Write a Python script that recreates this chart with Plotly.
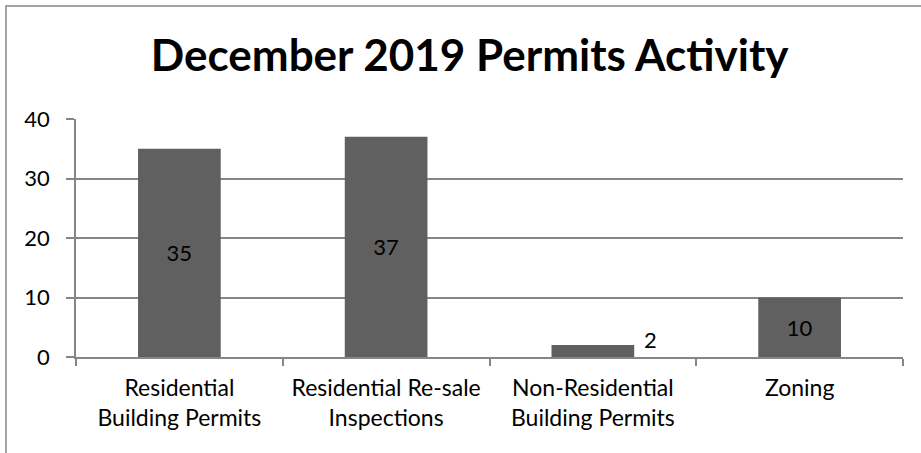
import plotly.graph_objects as go

categories = ["Residential<br>Building Permits", "Residential Re-sale<br>Inspections",
              "Non-Residential<br>Building Permits", "Zoning"]
values = [35, 37, 2, 10]
y_ticks = [0, 10, 20, 30, 40]
title_text = "December 2019 Permits Activity"

W, H = 921, 453
L, R, T, B = 76, 18, 119, 96
FONT = "Lato, Open Sans, sans-serif"
GRAY = "#868686"
BAR = "#606060"

fig = go.Figure()
fig.add_trace(go.Bar(
    x=categories, y=values, marker=dict(color=BAR, line=dict(width=0)),
    text=[str(v) if v >= 5 else "" for v in values],
    textposition="inside", insidetextanchor="middle",
    textfont=dict(family=FONT, size=22, color="black"),
    constraintext="none", cliponaxis=False, width=0.4, hoverinfo="skip",
))

# label for the small bar, placed right of it like the original
for c, v in zip(categories, values):
    if v < 5:
        fig.add_annotation(x=c, y=v / 2, text=str(v), showarrow=False,
                           xshift=58, yshift=12,
                           font=dict(family=FONT, size=22, color="black"))

pw = W - L - R
ph = H - T - B
fig.add_shape(type="rect", xref="paper", yref="paper",
              x0=(6 - L) / pw, x1=(W + 10 - L) / pw,
              y0=-(B + 10) / ph, y1=(H - 6 - B) / ph,
              line=dict(color=GRAY, width=1.5), layer="below")

fig.update_layout(
    width=W, height=H, margin=dict(l=L, r=R, t=T, b=B),
    paper_bgcolor="white", plot_bgcolor="white",
    title=dict(text="<b>" + title_text + "</b>", x=0.51, xref="container", xanchor="center",
               y=1 - 56 / H, yanchor="middle",
               font=dict(family=FONT, size=44, color="black")),
    showlegend=False,
    bargap=0.6,
    xaxis=dict(type="category", showline=True, linecolor=GRAY, linewidth=1.5,
               ticks="outside", tickson="boundaries", ticklen=7, tickcolor=GRAY,
               tickwidth=1.5, showgrid=False, ticklabelstandoff=10,
               tickfont=dict(family=FONT, size=23, color="black")),
    yaxis=dict(range=[0, 40], tickvals=y_ticks, showline=True, linecolor=GRAY,
               linewidth=1.5, ticks="outside", ticklen=8, tickcolor=GRAY, tickwidth=1.5,
               showgrid=True, gridcolor=GRAY, gridwidth=1.5, zeroline=False,
               ticklabelstandoff=12,
               tickfont=dict(family=FONT, size=22, color="black")),
)

fig.write_html("out.html", config={"displayModeBar": False},
               post_script="document.body.style.margin='0';document.body.style.overflow='hidden';")
